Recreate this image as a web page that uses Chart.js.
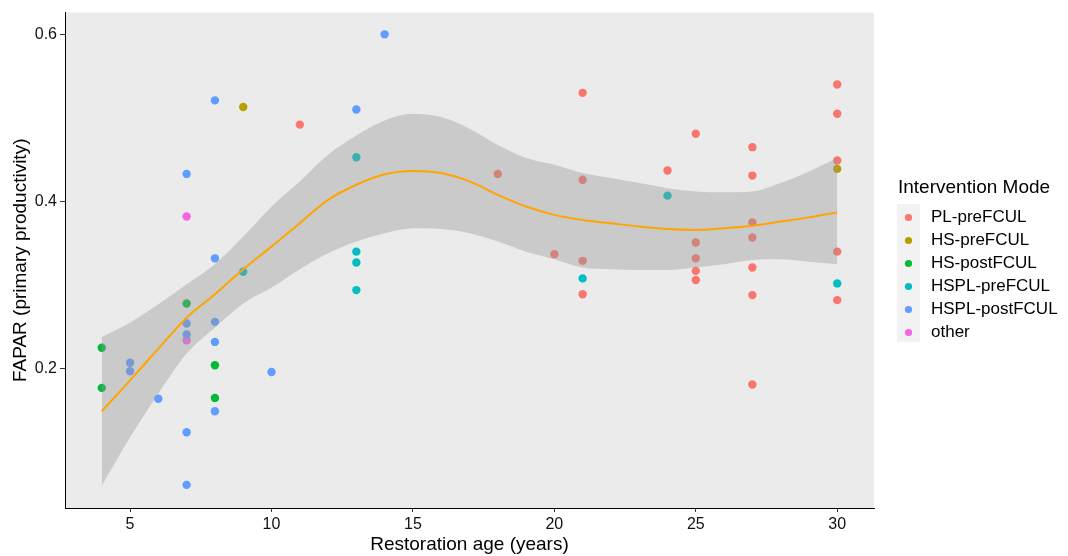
<!DOCTYPE html>
<html>
<head>
<meta charset="utf-8">
<script src="https://cdn.jsdelivr.net/npm/chart.js@4.4.1/dist/chart.umd.min.js"></script>
<style>
  html, body { margin: 0; padding: 0; background: #fff; }
</style>
</head>
<body>
<canvas id="faparChart" width="1068" height="556"></canvas>
<script>
// Legend order and ggplot hue colours
const modes = ['PL-preFCUL', 'HS-preFCUL', 'HS-postFCUL', 'HSPL-preFCUL', 'HSPL-postFCUL', 'other'];
const modeColors = ['#F8766D', '#B79F00', '#00BA38', '#00BFC4', '#619CFF', '#F564E3'];

// Observations per intervention mode (age in years, FAPAR)
const plAges = [11, 18, 20, 21, 21, 21, 21, 24, 25, 25, 25, 25, 25, 27, 27, 27, 27, 27, 27, 27, 30, 30, 30, 30, 30];
const plValues = [0.492, 0.433, 0.337, 0.530, 0.426, 0.329, 0.289, 0.437, 0.481, 0.351, 0.332, 0.317, 0.306,
  0.465, 0.431, 0.375, 0.357, 0.321, 0.288, 0.181, 0.540, 0.505, 0.449, 0.340, 0.282];
const hsPreAges = [9, 30];
const hsPreValues = [0.513, 0.439];
const hsPostAges = [4, 4, 7, 8, 8];
const hsPostValues = [0.225, 0.177, 0.278, 0.204, 0.165];
const hsplPreAges = [9, 13, 13, 13, 13, 21, 24, 30];
const hsplPreValues = [0.316, 0.453, 0.340, 0.327, 0.294, 0.308, 0.407, 0.302];
const hsplPostAges = [5, 5, 6, 7, 7, 7, 7, 7, 8, 8, 8, 8, 8, 10, 13, 14];
const hsplPostValues = [0.207, 0.197, 0.164, 0.433, 0.254, 0.241, 0.124, 0.061, 0.521, 0.332, 0.256, 0.232, 0.149,
  0.196, 0.510, 0.600];
const otherAges = [7, 7];
const otherValues = [0.382, 0.234];

// Loess fit and its confidence band
const fitAges = [4, 5, 6, 7, 8, 9, 10, 11, 12, 13, 14, 15, 16, 17, 18, 19, 20, 21, 22, 23, 24, 25, 26, 27, 28, 29, 30];
const fitValues = [0.149, 0.186, 0.224, 0.261, 0.289, 0.319, 0.346, 0.374, 0.402, 0.420, 0.4325, 0.4365, 0.434,
  0.424, 0.408, 0.394, 0.384, 0.378, 0.374, 0.370, 0.367, 0.366, 0.368, 0.371, 0.376, 0.381, 0.387];
const bandUpper = [0.238, 0.255, 0.277, 0.301, 0.325, 0.358, 0.394, 0.424, 0.456, 0.479, 0.497, 0.505, 0.501,
  0.487, 0.4675, 0.452, 0.444, 0.434, 0.428, 0.422, 0.416, 0.412, 0.411, 0.412, 0.422, 0.436, 0.452];
const bandLower = [0.060, 0.118, 0.170, 0.218, 0.249, 0.278, 0.297, 0.319, 0.338, 0.352, 0.362, 0.368, 0.367,
  0.362, 0.352, 0.340, 0.331, 0.321, 0.319, 0.318, 0.318, 0.321, 0.325, 0.330, 0.331, 0.328, 0.325];

const xTicks = [5, 10, 15, 20, 25, 30];
const yTicks = [0.2, 0.4, 0.6];

const toPoints = (xs, ys) => xs.map((x, i) => ({ x: x, y: ys[i] }));

const groups = [
  [plAges, plValues], [hsPreAges, hsPreValues], [hsPostAges, hsPostValues],
  [hsplPreAges, hsplPreValues], [hsplPostAges, hsplPostValues], [otherAges, otherValues]
];

const pointSets = groups.map((g, i) => ({
  label: modes[i],
  data: toPoints(g[0], g[1]),
  backgroundColor: modeColors[i],
  borderWidth: 0,
  pointRadius: 4.2,
  pointHoverRadius: 4.2,
  order: 3
}));

const bandSets = [
  {
    type: 'line',
    label: 'upper',
    data: toPoints(fitAges, bandUpper),
    borderWidth: 0,
    pointRadius: 0,
    cubicInterpolationMode: 'monotone',
    backgroundColor: 'rgba(153,153,153,0.4)',
    fill: '+1',
    order: 2
  },
  {
    type: 'line',
    label: 'lower',
    data: toPoints(fitAges, bandLower),
    borderWidth: 0,
    pointRadius: 0,
    cubicInterpolationMode: 'monotone',
    fill: false,
    order: 2
  },
  {
    type: 'line',
    label: 'fit',
    data: toPoints(fitAges, fitValues),
    borderColor: '#FFA500',
    borderWidth: 2,
    pointRadius: 0,
    cubicInterpolationMode: 'monotone',
    fill: false,
    order: 1
  }
];

// grey panel behind the data
const panelBg = {
  id: 'panelBg',
  beforeDraw(chart) {
    const { ctx, chartArea: a } = chart;
    ctx.save();
    ctx.fillStyle = '#EBEBEB';
    ctx.fillRect(a.left, a.top, a.right - a.left, a.bottom - a.top);
    ctx.restore();
  }
};

// ggplot style legend on the right
const modeLegend = {
  id: 'modeLegend',
  afterDraw(chart) {
    const { ctx, chartArea: a } = chart;
    const left = a.right + 23;
    const top = 204;
    const rowH = 23;
    ctx.save();
    ctx.fillStyle = '#F2F2F2';
    ctx.fillRect(left, top, 23, rowH * modes.length + 0);
    ctx.fillStyle = '#000';
    ctx.textBaseline = 'middle';
    ctx.font = '19px "Liberation Sans", Arial, sans-serif';
    ctx.fillText('Intervention Mode', left + 1, 188);
    ctx.font = '17px "Liberation Sans", Arial, sans-serif';
    modes.forEach((m, i) => {
      const cy = top + rowH / 2 + 2 + i * rowH;
      ctx.fillStyle = modeColors[i];
      ctx.beginPath();
      ctx.arc(left + 11.5, cy, 3.6, 0, Math.PI * 2);
      ctx.fill();
      ctx.fillStyle = '#000';
      ctx.fillText(m, left + 34, cy);
    });
    ctx.restore();
  }
};

new Chart(document.getElementById('faparChart'), {
  type: 'scatter',
  data: { datasets: pointSets.concat(bandSets) },
  options: {
    responsive: false,
    animation: false,
    layout: { padding: { top: 10, right: 194, bottom: 0, left: 0 } },
    plugins: {
      legend: { display: false },
      tooltip: { enabled: false }
    },
    scales: {
      x: {
        type: 'linear',
        min: 2.7,
        max: 31.3,
        afterFit(scale) { scale.height = 48; },
        afterBuildTicks(scale) { scale.ticks = xTicks.map(v => ({ value: v })); },
        grid: { drawOnChartArea: false, drawTicks: true, tickLength: 4, color: '#333' },
        border: { display: true, color: '#000', width: 1 },
        ticks: { color: '#111', padding: 3, font: { size: 16, family: '"Liberation Sans", Arial, sans-serif' } },
        title: {
          display: true,
          text: 'Restoration age (years)',
          color: '#000',
          padding: { top: 0, bottom: 0 },
          font: { size: 19, family: '"Liberation Sans", Arial, sans-serif' }
        }
      },
      y: {
        type: 'linear',
        min: 0.0333,
        max: 0.626,
        afterFit(scale) { scale.width = 65; },
        afterBuildTicks(scale) { scale.ticks = yTicks.map(v => ({ value: v })); },
        grid: { drawOnChartArea: false, drawTicks: true, tickLength: 5, color: '#333' },
        border: { display: true, color: '#000', width: 1 },
        ticks: {
          color: '#111',
          padding: 3,
          font: { size: 16, family: '"Liberation Sans", Arial, sans-serif' },
          callback: v => v.toFixed(1)
        },
        title: {
          display: true,
          text: 'FAPAR (primary productivity)',
          color: '#000',
          padding: { top: 9, bottom: 0 },
          font: { size: 19, family: '"Liberation Sans", Arial, sans-serif' }
        }
      }
    }
  },
  plugins: [panelBg, modeLegend]
});
</script>
</body>
</html>
